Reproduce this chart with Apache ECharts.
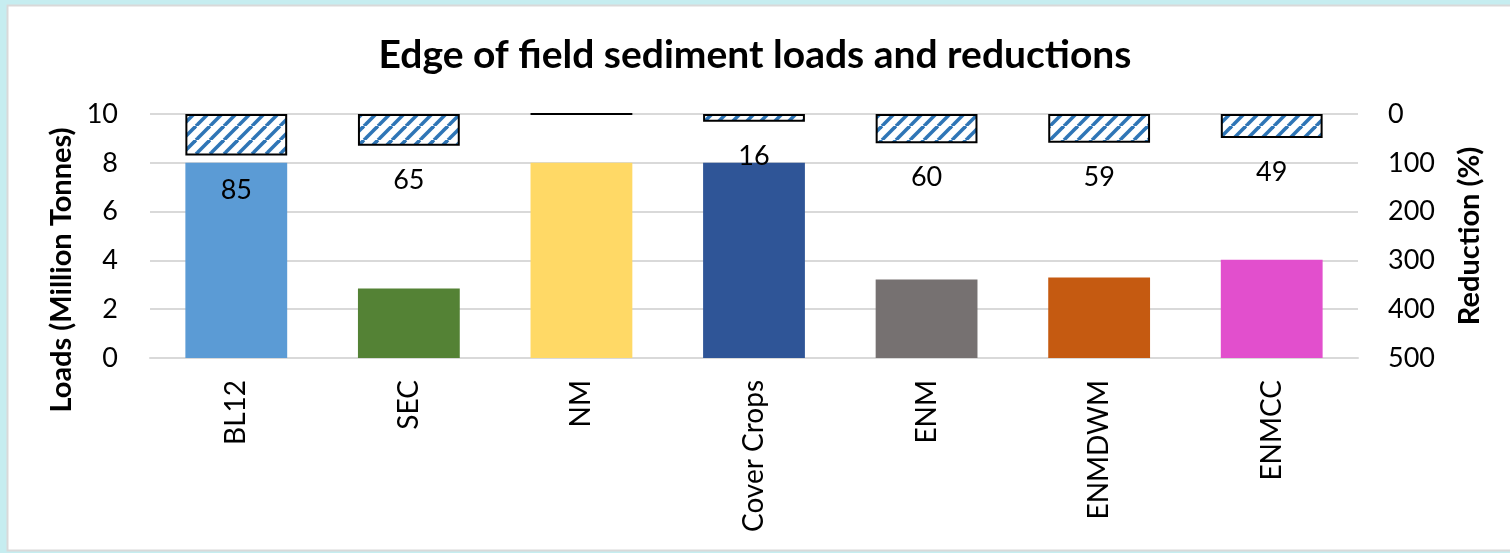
<!DOCTYPE html>
<html>
<head>
<meta charset="utf-8">
<script src="https://cdn.jsdelivr.net/npm/echarts@6/dist/echarts.min.js"></script>
<style>
  html, body { margin: 0; padding: 0; background: #c6edf0; }
  #chart { width: 1510px; height: 553px; }
</style>
</head>
<body>
<div id="chart"></div>
<script>
// Scenario categories
const categories = ['BL12', 'SEC', 'NM', 'Cover Crops', 'ENM', 'ENMDWM', 'ENMCC'];
// Edge-of-field sediment loads (million tonnes)
const loads = [8.0, 2.85, 8.0, 8.0, 3.22, 3.30, 4.03];
// Reduction relative to baseline (%)
const reductions = [85, 65, 0, 16, 60, 59, 49];
// Fill colour of each scenario's load bar
const barColors = ['#5B9BD5', '#548235', '#FFD966', '#2F5597', '#767171', '#C55A11', '#E24FCD'];
// Tick settings of both value axes
const loadTicks = { min: 0, max: 10, interval: 2 };
const reductionTicks = { min: 0, max: 500, interval: 100 };

const FONT = 'Lato, "Open Sans", sans-serif';

// Diagonal blue hatch used for the reduction bars
function makeHatch() {
  const s = 14;
  const c = document.createElement('canvas');
  c.width = s; c.height = s;
  const g = c.getContext('2d');
  g.fillStyle = '#ffffff';
  g.fillRect(0, 0, s, s);
  g.strokeStyle = '#2E75B6';
  g.lineWidth = 3.6;
  for (let k = -1; k <= 1; k++) {
    g.beginPath();
    g.moveTo(k * s, s);
    g.lineTo(k * s + s, 0);
    g.stroke();
  }
  return c;
}

const chart = echarts.init(document.getElementById('chart'), null, { renderer: 'canvas' });

chart.setOption({
  backgroundColor: '#c6edf0',
  animation: false,
  graphic: [{
    type: 'rect',
    z: -10,
    shape: { x: 7.5, y: 5.5, width: 1510, height: 545 },
    style: { fill: '#ffffff', stroke: '#d9d9d9', lineWidth: 2 }
  }],
  title: {
    text: 'Edge of field sediment loads and reductions',
    left: 'center',
    top: 31,
    textStyle: { fontFamily: FONT, fontWeight: 'bold', fontSize: 39, color: '#000' }
  },
  grid: { left: 150, right: 152, top: 114, bottom: 195 },
  xAxis: {
    type: 'category',
    data: categories,
    axisLine: { show: true, lineStyle: { color: '#d9d9d9', width: 2 } },
    axisTick: { show: false },
    axisLabel: {
      rotate: 90,
      margin: 22,
      interval: 0,
      color: '#000',
      fontFamily: FONT,
      fontSize: 28
    }
  },
  yAxis: [{
    type: 'value',
    min: loadTicks.min, max: loadTicks.max, interval: loadTicks.interval,
    name: 'Loads (Million Tonnes)',
    nameLocation: 'middle',
    nameGap: 74,
    nameTextStyle: {
      fontFamily: FONT, fontWeight: 'bold', fontSize: 29, color: '#000',
      padding: [0, 68, 0, 0]
    },
    axisLine: { show: false },
    axisTick: { show: false },
    axisLabel: { margin: 32, color: '#000', fontFamily: FONT, fontSize: 27 },
    splitLine: { lineStyle: { color: '#d9d9d9', width: 2 } }
  }, {
    type: 'value',
    inverse: true,
    min: reductionTicks.min, max: reductionTicks.max, interval: reductionTicks.interval,
    name: 'Reduction (%)',
    nameLocation: 'middle',
    nameGap: 97,
    nameTextStyle: { fontFamily: FONT, fontWeight: 'bold', fontSize: 29, color: '#000' },
    axisLine: { show: false },
    axisTick: { show: false },
    axisLabel: { margin: 30, color: '#000', fontFamily: FONT, fontSize: 27 },
    splitLine: { show: false }
  }],
  series: [{
    name: 'Loads',
    type: 'bar',
    yAxisIndex: 0,
    barWidth: '59%',
    barGap: '-100%',
    data: loads.map((v, i) => ({ value: v, itemStyle: { color: barColors[i] } })),
    z: 2
  }, {
    name: 'Reduction',
    type: 'bar',
    yAxisIndex: 1,
    barWidth: '59%',
    barGap: '-100%',
    data: reductions,
    itemStyle: {
      color: { image: makeHatch(), repeat: 'repeat' },
      borderColor: '#000',
      borderWidth: 2
    },
    label: {
      show: true,
      position: 'bottom',
      distance: 21,
      color: '#000',
      fontFamily: FONT,
      fontSize: 27,
      formatter: p => (p.value === 0 ? '' : String(p.value))
    },
    z: 3
  }]
});
</script>
</body>
</html>
